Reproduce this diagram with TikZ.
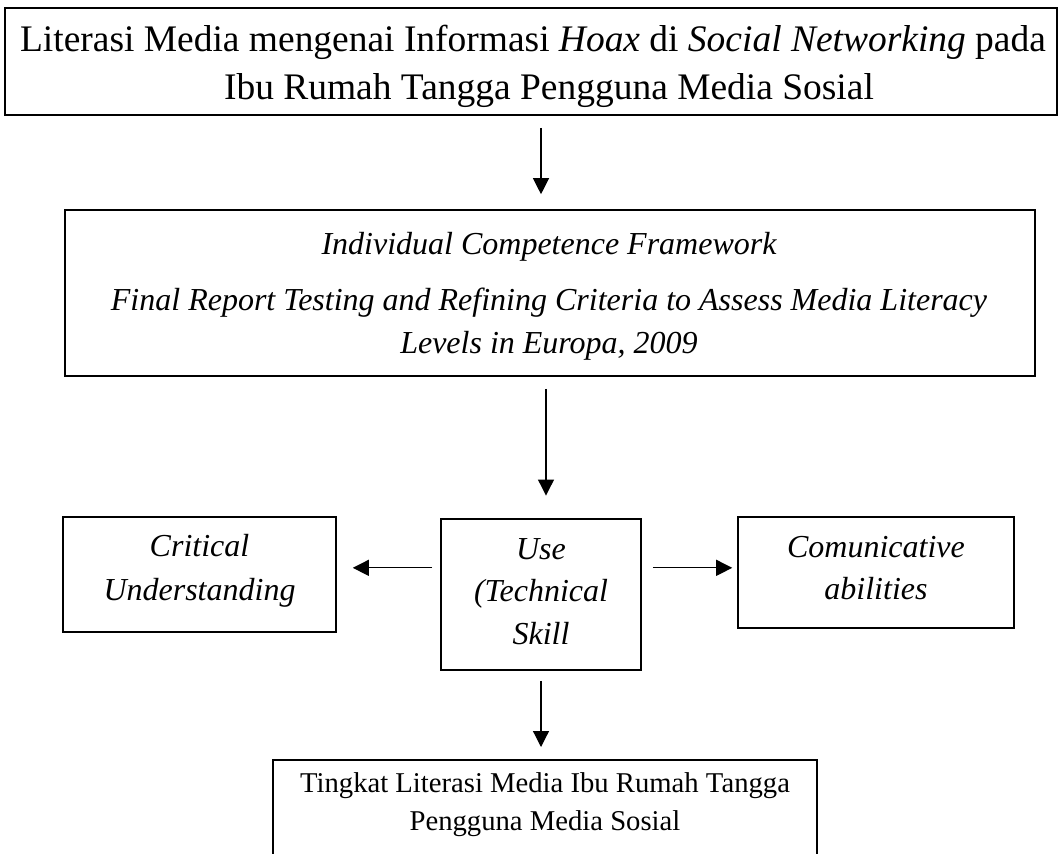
\documentclass[tikz,border=0pt]{standalone}
\usepackage{fontspec}
\setmainfont{Liberation Serif}
\usetikzlibrary{arrows.meta}

\tikzset{
    box/.style={draw, line width=1.2pt, inner sep=0pt},
    txt/.style={align=center, inner sep=0pt},
    flow/.style={-{Triangle[width=12pt,length=12pt]}, line width=0.9pt},
}

\begin{document}
\begin{tikzpicture}[x=0.75pt,y=-0.75pt]
    \useasboundingbox (0,0) rectangle (1063,853);
    \clip (0,0) rectangle (1063,853);

    % Title
    \node[box, minimum width=789pt, minimum height=80.25pt] (title) at (531,61.5) {};
    \node[txt, font=\fontsize{28.1}{36}\selectfont] (titleText) at (533,66)
        {Literasi Media mengenai Informasi \textit{Hoax} di \textit{Social Networking} pada\\
         \hspace*{24pt}Ibu Rumah Tangga Pengguna Media Sosial};

    % Framework
    \node[box, minimum width=727.5pt, minimum height=124.5pt] (frame) at (550,293) {};
    \node[txt, font=\fontsize{24}{32.25}\selectfont\itshape] (frameText) at (549,296)
        {Individual Competence Framework\\[10pt]
         Final Report Testing and Refining Criteria to Assess Media Literacy\\
         Levels in Europa, 2009};

    % Competences
    \node[box, minimum width=204.75pt, minimum height=86.25pt] (crit) at (199.5,574.5) {};
    \node[txt, font=\fontsize{24}{33}\selectfont\itshape] (critText) at (199.5,570.5)
        {Critical\\ Understanding};
    \node[box, minimum width=150pt, minimum height=113.25pt] (use) at (541,594.5) {};
    \node[txt, font=\fontsize{24}{32}\selectfont\itshape] (useText) at (541,591.5)
        {Use\\ (Technical\\ Skill};
    \node[box, minimum width=207pt, minimum height=83.25pt] (comm) at (876,572.5) {};
    \node[txt, font=\fontsize{24}{31.5}\selectfont\itshape] (commText) at (876,568)
        {Comunicative\\ abilities};

    % Result
    \node[box, minimum width=408pt, minimum height=90pt, anchor=north] (level) at (545,759) {};
    \node[txt, font=\fontsize{21.5}{28.5}\selectfont] (levelText) at (545,805)
        {Tingkat Literasi Media Ibu Rumah Tangga\\ Pengguna Media Sosial};

    % Arrows
    \draw[flow, shorten <=9pt, shorten >=11.25pt] (title.south -| use.north) -- (frame.north -| use.north);
    \draw[flow, shorten <=9pt, shorten >=17pt] ([xshift=-3pt]frame.south) -- ([xshift=-3pt]frame.south |- use.north);
    \draw[flow, shorten <=6pt, shorten >=12pt] ([yshift=5pt]crit.east -| use.west) -- ([yshift=5pt]crit.east);
    \draw[flow, shorten <=8.25pt, shorten >=3.75pt] ([yshift=3.5pt]comm.west -| use.east) -- ([yshift=3.5pt]comm.west);
    \draw[flow, shorten <=7.5pt, shorten >=9pt] (use.south) -- (use.south |- level.north);

\end{tikzpicture}
\end{document}
